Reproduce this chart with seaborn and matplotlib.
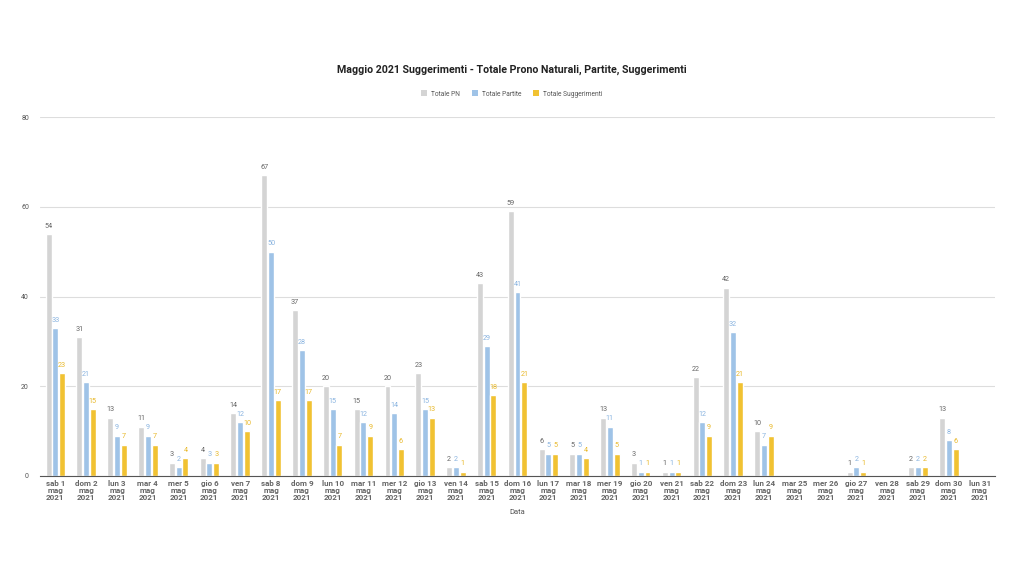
import numpy as np
import pandas as pd
import matplotlib
matplotlib.use("Agg")
import matplotlib.pyplot as plt
import seaborn as sns

days = ["sab 1", "dom 2", "lun 3", "mar 4", "mer 5", "gio 6", "ven 7", "sab 8", "dom 9", "lun 10",
        "mar 11", "mer 12", "gio 13", "ven 14", "sab 15", "dom 16", "lun 17", "mar 18", "mer 19",
        "gio 20", "ven 21", "sab 22", "dom 23", "lun 24", "mar 25", "mer 26", "gio 27", "ven 28",
        "sab 29", "dom 30", "lun 31"]
labels = [d + "\nmag\n2021" for d in days]
nan = np.nan
totale_pn = [54, 31, 13, 11, 3, 4, 14, 67, 37, 20, 15, 20, 23, 2, 43, 59, 6, 5, 13, 3, 1, 22, 42, 10,
             nan, nan, 1, nan, 2, 13, nan]
totale_partite = [33, 21, 9, 9, 2, 3, 12, 50, 28, 15, 12, 14, 15, 2, 29, 41, 5, 5, 11, 1, 1, 12, 32, 7,
                  nan, nan, 2, nan, 2, 8, nan]
totale_sugg = [23, 15, 7, 7, 4, 3, 10, 17, 17, 7, 9, 6, 13, 1, 18, 21, 5, 4, 5, 1, 1, 9, 21, 9,
               nan, nan, 1, nan, 2, 6, nan]
series = ["Totale PN", "Totale Partite", "Totale Suggerimenti"]
colors = ["#d4d4d4", "#9fc3e7", "#f1c232"]
label_colors = ["#666666", "#8ab4e0", "#e8b829"]

rows = []
for s, vals in zip(series, [totale_pn, totale_partite, totale_sugg]):
    for lab, v in zip(labels, vals):
        rows.append({"Data": lab, "Serie": s, "Valore": v})
df = pd.DataFrame(rows)

sns.set_theme(style="white")
plt.rcParams['font.family'] = ['Roboto', 'DejaVu Sans']

fig = plt.figure(figsize=(10.24, 5.76), dpi=100)
ax = fig.add_axes([40/1024, 1-476/576, 955/1024, (476-117)/576])

sns.barplot(data=df, x="Data", y="Valore", hue="Serie", order=labels, hue_order=series,
            palette=colors, width=0.66, gap=0.12, ax=ax, legend=False, saturation=1, errorbar=None)

for cont, lc in zip(ax.containers, label_colors):
    labs = []
    for b in cont:
        h = b.get_height()
        labs.append("" if (h is None or np.isnan(h) or h == 0) else f"{int(h)}")
    ax.bar_label(cont, labels=labs, padding=3, fontsize=5.2, color=lc)

ax.set_ylim(0, 80)
ax.set_xlim(-0.5, len(labels) - 0.5)
ax.set_yticks([0, 20, 40, 60, 80])
ax.tick_params(axis='y', labelsize=5, colors="#555555", length=0, pad=8)
ax.tick_params(axis='x', labelsize=5.8, colors="#666666", length=0, pad=3)
for t in ax.get_xticklabels():
    t.set_fontweight("bold")
    t.set_linespacing(0.95)
ax.grid(axis='y', color="#dddddd", linewidth=0.8)
ax.set_axisbelow(True)
for sp in ["top", "right", "left"]:
    ax.spines[sp].set_visible(False)
ax.spines["bottom"].set_color("#555555")
ax.spines["bottom"].set_linewidth(0.8)
ax.set_ylabel("")
ax.set_xlabel("Data", fontsize=5.5, color="#555555", labelpad=6)

fig.text(0.5, 1-70/576, "Maggio 2021 Suggerimenti - Totale Prono Naturali, Partite, Suggerimenti",
         ha="center", va="center", fontsize=7.7, fontweight="bold", color="#222222")

from matplotlib.patches import Patch
handles = [Patch(facecolor=c, edgecolor="none") for c in colors]
fig.legend(handles, series, loc="center", bbox_to_anchor=(0.5, 1-94/576), ncol=3, frameon=False,
           fontsize=4.8, handlelength=0.9, handleheight=0.9, handletextpad=0.6, columnspacing=1.8,
           labelcolor="#555555")

fig.savefig("out.png", dpi=100, facecolor="white")
